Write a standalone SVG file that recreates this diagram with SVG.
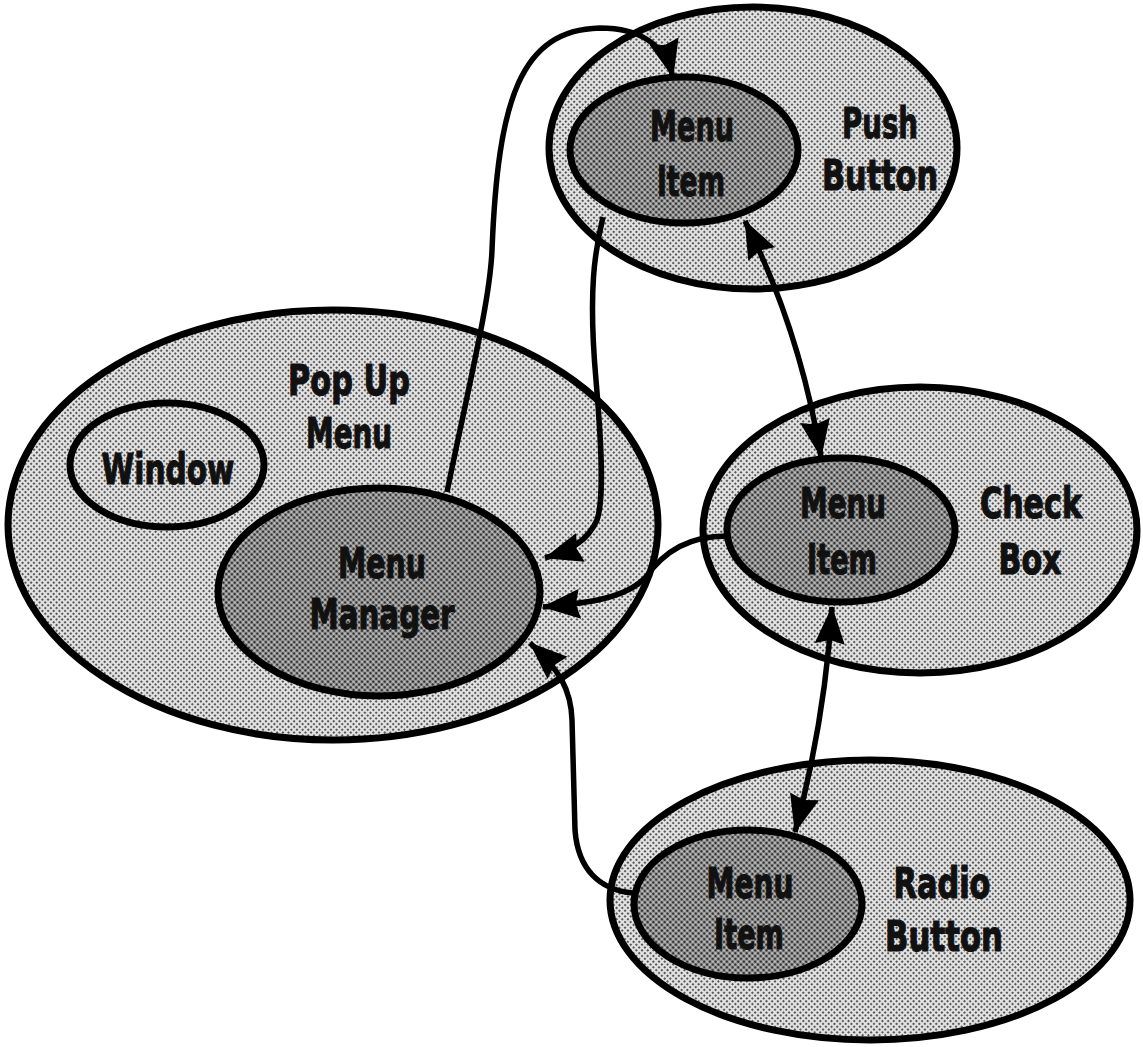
<svg xmlns="http://www.w3.org/2000/svg" width="1143" height="1047" viewBox="0 0 1143 1047">
<style>
.outer{fill:url(#htLight);stroke:#000;stroke-width:7}
.inner{fill:url(#htDark);stroke:#000;stroke-width:7}
.lbl{font-family:"DejaVu Sans","Liberation Sans",sans-serif;font-weight:bold;font-size:42px;fill:#111;stroke:#111;stroke-width:1.2;text-anchor:middle}
.conn{fill:none;stroke:#000;stroke-width:5.5}
</style>
<defs>
<pattern id="htLight" width="4" height="4" patternUnits="userSpaceOnUse" patternTransform="rotate(45)">
<rect width="4" height="4" fill="#e2e2e2"/><circle cx="2" cy="2" r="1.05" fill="#333"/>
</pattern>
<pattern id="htDark" width="4" height="4" patternUnits="userSpaceOnUse" patternTransform="rotate(45)">
<rect width="4" height="4" fill="#c0c0c0"/><circle cx="2" cy="2" r="1.55" fill="#333"/>
</pattern>
<marker id="arr" viewBox="0 0 38 30" refX="37" refY="15" markerWidth="38" markerHeight="30" markerUnits="userSpaceOnUse" orient="auto-start-reverse">
<path d="M0,0 L38,15 L0,30 L4,15 z" fill="#000"/>
</marker>
</defs>

<g id="popup-menu">
<ellipse class="outer" cx="333" cy="525" rx="325" ry="215"/>
<text class="lbl" x="349" y="395" textLength="122" lengthAdjust="spacingAndGlyphs">Pop Up</text>
<text class="lbl" x="349" y="448" textLength="86" lengthAdjust="spacingAndGlyphs">Menu</text>
</g>
<g id="window">
<ellipse class="outer" cx="167" cy="465" rx="97" ry="62"/>
<text class="lbl" x="168" y="484" textLength="133" lengthAdjust="spacingAndGlyphs">Window</text>
</g>
<g id="menu-manager">
<ellipse class="inner" cx="379" cy="592" rx="161" ry="104"/>
<text class="lbl" x="382" y="578" textLength="88" lengthAdjust="spacingAndGlyphs">Menu</text>
<text class="lbl" x="382" y="629" textLength="145" lengthAdjust="spacingAndGlyphs">Manager</text>
</g>

<g id="push-button">
<ellipse class="outer" cx="753" cy="148" rx="204" ry="141"/>
<text class="lbl" x="880" y="138" textLength="76" lengthAdjust="spacingAndGlyphs">Push</text>
<text class="lbl" x="880" y="190" textLength="116" lengthAdjust="spacingAndGlyphs">Button</text>
</g>
<g id="push-menu-item">
<ellipse class="inner" cx="684" cy="150" rx="114" ry="73"/>
<text class="lbl" x="692" y="141" textLength="84" lengthAdjust="spacingAndGlyphs">Menu</text>
<text class="lbl" x="691" y="196" textLength="68" lengthAdjust="spacingAndGlyphs">Item</text>
</g>

<g id="check-box">
<ellipse class="outer" cx="920" cy="530" rx="217" ry="143"/>
<text class="lbl" x="1031" y="518" textLength="102" lengthAdjust="spacingAndGlyphs">Check</text>
<text class="lbl" x="1030" y="574" textLength="63" lengthAdjust="spacingAndGlyphs">Box</text>
</g>
<g id="check-menu-item">
<ellipse class="inner" cx="841" cy="530" rx="114" ry="72"/>
<text class="lbl" x="843" y="518" textLength="86" lengthAdjust="spacingAndGlyphs">Menu</text>
<text class="lbl" x="842" y="574" textLength="70" lengthAdjust="spacingAndGlyphs">Item</text>
</g>

<g id="radio-button">
<ellipse class="outer" cx="870" cy="900" rx="260" ry="140"/>
<text class="lbl" x="942" y="898" textLength="97" lengthAdjust="spacingAndGlyphs">Radio</text>
<text class="lbl" x="944" y="951" textLength="118" lengthAdjust="spacingAndGlyphs">Button</text>
</g>
<g id="radio-menu-item">
<ellipse class="inner" cx="748" cy="904" rx="114" ry="74"/>
<text class="lbl" x="750" y="898" textLength="87" lengthAdjust="spacingAndGlyphs">Menu</text>
<text class="lbl" x="749" y="949" textLength="70" lengthAdjust="spacingAndGlyphs">Item</text>
</g>

<g id="connectors">
<path class="conn" d="M447,492 C470,380 490,300 492,250 C498,100 520,30 600,28 C640,28 665,45 673,77" marker-end="url(#arr)"/>
<path class="conn" d="M603,217 C595,250 588,290 596,380 C602,450 604,500 597,520 C588,540 572,550 545,558" marker-end="url(#arr)"/>
<path class="conn" d="M745,221 Q800,330 821,457" marker-start="url(#arr)" marker-end="url(#arr)"/>
<path class="conn" d="M727,536 C690,536 665,550 645,578 C625,598 590,603 543,607" marker-end="url(#arr)"/>
<path class="conn" d="M832,607 Q825,720 795,832" marker-start="url(#arr)" marker-end="url(#arr)"/>
<path class="conn" d="M633,893 C600,890 578,870 575,830 L572,720 C571,690 560,670 530,643" marker-end="url(#arr)"/>
</g>
</svg>
